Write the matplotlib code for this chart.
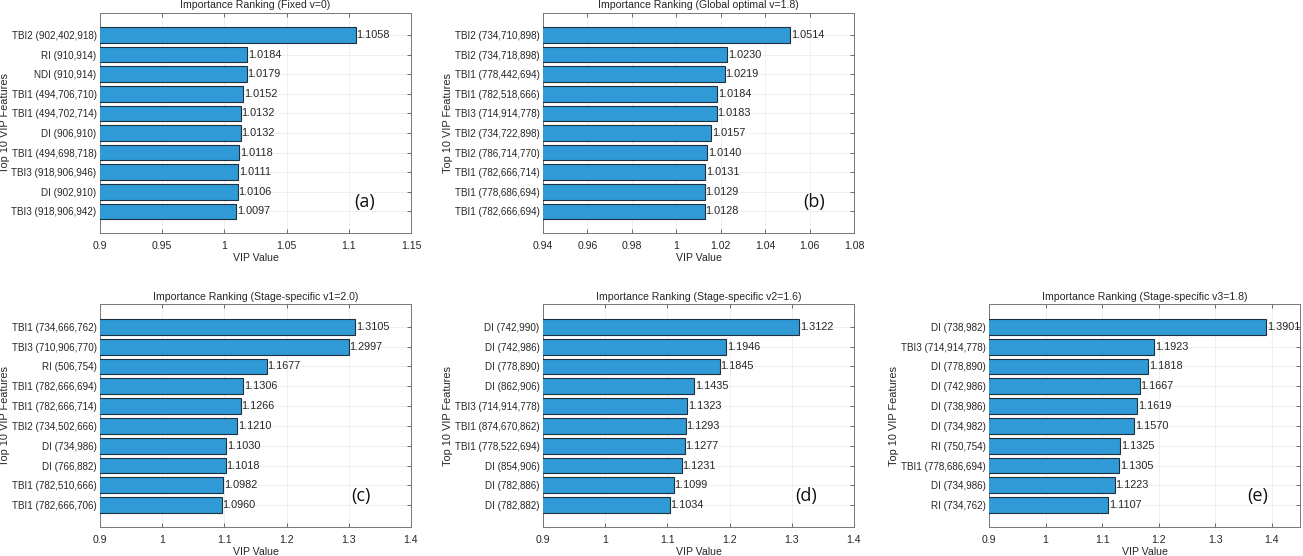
import numpy as np
import matplotlib.pyplot as plt

plt.rcParams['font.family'] = ['Liberation Sans', 'DejaVu Sans']

# data, listed top bar first
feat_a = ['TBI2 (902,402,918)', 'RI (910,914)', 'NDI (910,914)', 'TBI1 (494,706,710)',
          'TBI1 (494,702,714)', 'DI (906,910)', 'TBI1 (494,698,718)', 'TBI3 (918,906,946)',
          'DI (902,910)', 'TBI3 (918,906,942)']
vip_a = [1.1058, 1.0184, 1.0179, 1.0152, 1.0132, 1.0132, 1.0118, 1.0111, 1.0106, 1.0097]

feat_b = ['TBI2 (734,710,898)', 'TBI2 (734,718,898)', 'TBI1 (778,442,694)', 'TBI1 (782,518,666)',
          'TBI3 (714,914,778)', 'TBI2 (734,722,898)', 'TBI2 (786,714,770)', 'TBI1 (782,666,714)',
          'TBI1 (778,686,694)', 'TBI1 (782,666,694)']
vip_b = [1.0514, 1.0230, 1.0219, 1.0184, 1.0183, 1.0157, 1.0140, 1.0131, 1.0129, 1.0128]

feat_c = ['TBI1 (734,666,762)', 'TBI3 (710,906,770)', 'RI (506,754)', 'TBI1 (782,666,694)',
          'TBI1 (782,666,714)', 'TBI2 (734,502,666)', 'DI (734,986)', 'DI (766,882)',
          'TBI1 (782,510,666)', 'TBI1 (782,666,706)']
vip_c = [1.3105, 1.2997, 1.1677, 1.1306, 1.1266, 1.1210, 1.1030, 1.1018, 1.0982, 1.0960]

feat_d = ['DI (742,990)', 'DI (742,986)', 'DI (778,890)', 'DI (862,906)', 'TBI3 (714,914,778)',
          'TBI1 (874,670,862)', 'TBI1 (778,522,694)', 'DI (854,906)', 'DI (782,886)', 'DI (782,882)']
vip_d = [1.3122, 1.1946, 1.1845, 1.1435, 1.1323, 1.1293, 1.1277, 1.1231, 1.1099, 1.1034]

feat_e = ['DI (738,982)', 'TBI3 (714,914,778)', 'DI (778,890)', 'DI (742,986)', 'DI (738,986)',
          'DI (734,982)', 'RI (750,754)', 'TBI1 (778,686,694)', 'DI (734,986)', 'RI (734,762)']
vip_e = [1.3901, 1.1923, 1.1818, 1.1667, 1.1619, 1.1570, 1.1325, 1.1305, 1.1223, 1.1107]

titles = ['Importance Ranking (Fixed v=0)', 'Importance Ranking (Global optimal v=1.8)',
          'Importance Ranking (Stage-specific v1=2.0)', 'Importance Ranking (Stage-specific v2=1.6)',
          'Importance Ranking (Stage-specific v3=1.8)']
tags = ['(a)', '(b)', '(c)', '(d)', '(e)']
xlims = [(0.9, 1.15), (0.94, 1.08), (0.9, 1.4), (0.9, 1.4), (0.9, 1.45)]
xticks = [[0.9, 0.95, 1, 1.05, 1.1, 1.15],
          [0.94, 0.96, 0.98, 1, 1.02, 1.04, 1.06, 1.08],
          [0.9, 1, 1.1, 1.2, 1.3, 1.4],
          [0.9, 1, 1.1, 1.2, 1.3, 1.4],
          [0.9, 1, 1.1, 1.2, 1.3, 1.4]]

W, H = 1303, 556
# axes boxes in pixels: left, top, right, bottom
boxes = [(100, 12.5, 411, 233), (543, 12.5, 854, 233),
         (100, 304, 411, 527), (543, 304, 854, 527), (989, 304, 1300, 527)]
tag_pos = [(0.852, 0.14), (0.872, 0.14), (0.838, 0.138), (0.845, 0.138), (0.865, 0.138)]

feats = [feat_a, feat_b, feat_c, feat_d, feat_e]
vips = [vip_a, vip_b, vip_c, vip_d, vip_e]

txt = '#262626'
fig = plt.figure(figsize=(W / 100, H / 100), dpi=100)

for i in range(5):
    l, t, r, b = boxes[i]
    ax = fig.add_axes([l / W, 1 - b / H, (r - l) / W, (b - t) / H])
    n = len(vips[i])
    ypos = np.arange(n, 0, -1)
    ax.barh(ypos, vips[i], height=0.8, color='#2f9ad6', edgecolor='#20313d', linewidth=0.8, zorder=3)
    for y, v in zip(ypos, vips[i]):
        ax.text(v + (xlims[i][1] - xlims[i][0]) * 0.002, y, '%.4f' % v, va='center', ha='left',
                fontsize=7.8, color=txt, zorder=4)
    ax.set_xlim(*xlims[i])
    ax.set_ylim(-0.1, 11.15)
    ax.set_xticks(xticks[i])
    ax.set_xticklabels(['%g' % x for x in xticks[i]])
    ax.set_yticks(ypos)
    ax.set_yticklabels(feats[i])
    ax.tick_params(direction='in', length=3, width=0.6, colors='#555555', labelcolor=txt,
                   labelsize=7.1, top=True, right=True, pad=2.5)
    ax.tick_params(axis='x', pad=6, labelsize=7.6)
    ax.grid(True, color='#ececec', linewidth=0.6, zorder=0)
    for s in ax.spines.values():
        s.set_color('#777777')
        s.set_linewidth(0.7)
    ax.set_title(titles[i], fontsize=7.6, color=txt, pad=3)
    ax.set_xlabel('VIP Value', fontsize=7.6, color=txt, labelpad=1)
    ax.set_ylabel('Top 10 VIP Features', fontsize=7.9, color=txt)
    ax.yaxis.set_label_coords(-0.29, 0.5)
    ax.text(tag_pos[i][0], tag_pos[i][1], tags[i], transform=ax.transAxes, ha='center', va='center',
            fontsize=13, family='Open Sans', color='#111111')

fig.savefig('out.png', dpi=100)
